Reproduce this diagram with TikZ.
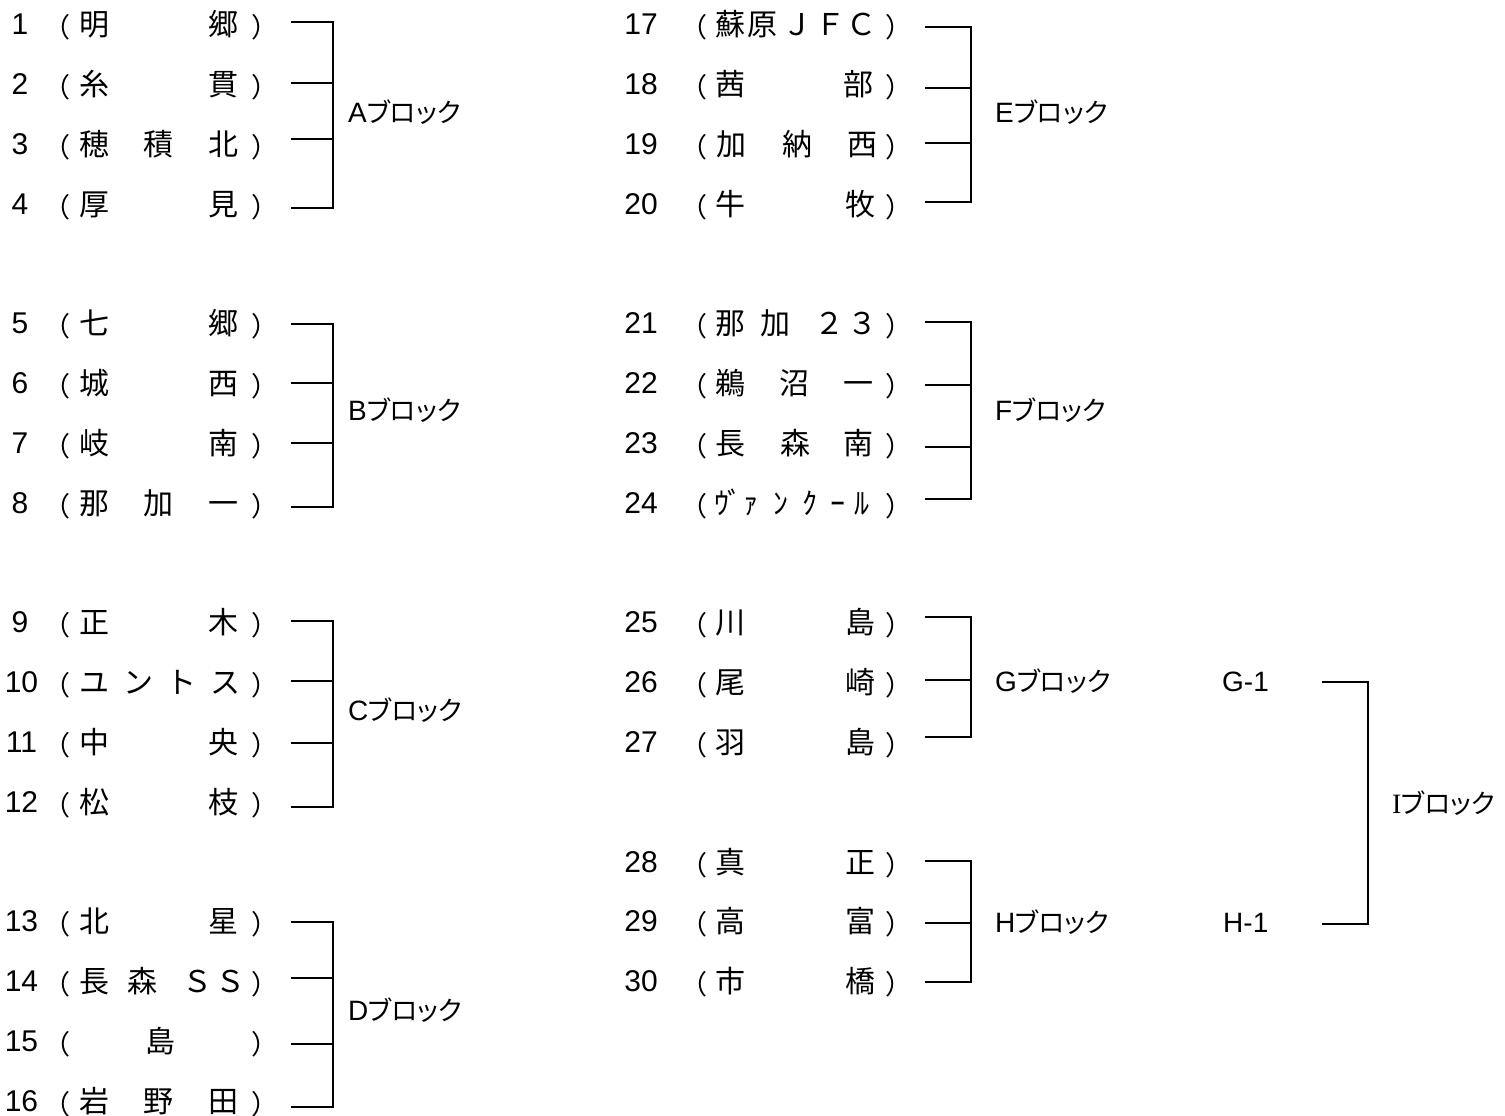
\documentclass[tikz,border=0pt]{standalone}
\usepackage{fontspec}
\setmainfont{Liberation Sans}
\newfontfamily\jp{Noto Sans CJK JP}
\newfontfamily\jpp[RawFeature=+palt]{Noto Sans CJK JP}
\newfontfamily\serifI{Liberation Serif}
\newcommand\kana[1]{{\jpp\fontsize{26.5}{26.5}\selectfont #1}}
\tikzset{
  num/.style={font=\fontsize{30}{30}\selectfont, inner sep=0pt, anchor=center},
  ch/.style={font=\jp\fontsize{30}{30}\selectfont, inner sep=0pt, anchor=base, yshift=-11.4pt},
  opar/.style={font=\jp\fontsize{27}{27}\selectfont, inner sep=0pt, anchor=base, yshift=-13.3pt},
  cpar/.style={font=\jp\fontsize{27}{27}\selectfont, inner sep=0pt, anchor=base, yshift=-13.3pt},
  lbl/.style={font=\fontsize{28}{28}\selectfont, inner sep=0pt, anchor=west},
  br/.style={line width=1.5pt, line join=miter}
}
\newcommand\teamrow[7]{%
  \node[num] (n#1) at (#2,#5) {#6};
  \node[opar] (o#1) at (#3,#5) {（};
  \node[cpar] (e#1) at (#4,#5) {）};
  \foreach \c/\x [count=\k] in {#7} {\node[ch] (c#1-\k) at (\x,#5) {\c};}%
}
\begin{document}
\begin{tikzpicture}[x=1pt,y=-1pt]
\fill[white] (0,0) rectangle (1505,1116);
\useasboundingbox (0,0) rectangle (1505,1116);
% left column
\teamrow{1}{20}{57}{265}{24.5}{1}{明/94,郷/223}
\teamrow{2}{20}{57}{265}{84.3}{2}{糸/94,貫/223}
\teamrow{3}{20}{57}{265}{144.1}{3}{穂/94,積/158,北/223}
\teamrow{4}{20}{57}{265}{203.9}{4}{厚/94,見/223}
\teamrow{5}{20}{57}{265}{323.5}{5}{七/94,郷/223}
\teamrow{6}{20}{57}{265}{383.3}{6}{城/94,西/223}
\teamrow{7}{20}{57}{265}{443.1}{7}{岐/94,南/223}
\teamrow{8}{20}{57}{265}{502.9}{8}{那/94,加/158,一/223}
\teamrow{9}{20}{57}{265}{622.5}{9}{正/94,木/223}
\teamrow{10}{21.5}{57}{265}{682.3}{10}{ユ/94,ン/138,ト/181,ス/225}
\teamrow{11}{21.5}{57}{265}{742.1}{11}{中/94,央/223}
\teamrow{12}{21.5}{57}{265}{801.9}{12}{松/94,枝/223}
\teamrow{13}{21.5}{57}{265}{921.5}{13}{北/94,星/223}
\teamrow{14}{21.5}{57}{265}{981.3}{14}{長/94,森/142,Ｓ/197,Ｓ/230}
\teamrow{15}{21.5}{57}{265}{1041.1}{15}{島/160}
\teamrow{16}{21.5}{57}{265}{1100.9}{16}{岩/94,野/158,田/223}
% right column
\teamrow{17}{641}{694}{899}{24.5}{17}{蘇/730,原/762,Ｊ/797,Ｆ/830,Ｃ/861}
\teamrow{18}{641}{694}{899}{84.3}{18}{茜/730,部/858}
\teamrow{19}{641}{694}{899}{144.1}{19}{加/731,納/797,西/862}
\teamrow{20}{641}{694}{899}{203.9}{20}{牛/730,牧/860}
\teamrow{21}{641}{694}{899}{323.5}{21}{那/730,加/775,２/829,３/862}
\teamrow{22}{641}{694}{899}{383.3}{22}{鵜/730,沼/794,一/858}
\teamrow{23}{641}{694}{899}{443.1}{23}{長/730,森/795,南/858}
\teamrow{24}{641}{694}{899}{502.9}{24}{ｳ/722,ﾞ/735,ｧ/751,ﾝ/781,ｸ/810,ｰ/838,ﾙ/862}
\teamrow{25}{641}{694}{899}{622.5}{25}{川/730,島/860}
\teamrow{26}{641}{694}{899}{682.3}{26}{尾/730,崎/860}
\teamrow{27}{641}{694}{899}{742.1}{27}{羽/730,島/860}
\teamrow{28}{641}{694}{899}{861.7}{28}{真/730,正/860}
\teamrow{29}{641}{694}{899}{921.5}{29}{高/730,富/860}
\teamrow{30}{641}{694}{899}{981.3}{30}{市/730,橋/860}
% block labels
\node[lbl] (LA) at (348,112) {A\kana{ブロック}};
\node[lbl] (LB) at (348,410) {B\kana{ブロック}};
\node[lbl] (LC) at (348,710) {C\kana{ブロック}};
\node[lbl] (LD) at (348,1010) {D\kana{ブロック}};
\node[lbl] (LE) at (995,112) {E\kana{ブロック}};
\node[lbl] (LF) at (995,410) {F\kana{ブロック}};
\node[lbl] (LG) at (995,681) {G\kana{ブロック}};
\node[lbl] (LH) at (995,922) {H\kana{ブロック}};
\node[lbl] (LI) at (1392,803) {{\serifI I}\kana{ブロック}};
\node[lbl] (G1) at (1222,682) {G-1};
\node[lbl] (H1) at (1223,923) {H-1};
% bracket coordinates
\coordinate (Lv) at (333,0);
\coordinate (Rv) at (971,0);
\coordinate (Iv) at (1368,0);
\foreach \b/\ya/\yb/\yc/\yd in {A/22/83/139/208, B/324/383/443/507, C/621/681/743/807, D/922/978/1044/1107}{
  \coordinate (\b1) at (291,\ya);
  \coordinate (\b2) at (291,\yb);
  \coordinate (\b3) at (291,\yc);
  \coordinate (\b4) at (291,\yd);
  \draw[br] (\b1) -- (\b1 -| Lv) -- (\b4 -| Lv) -- (\b4);
  \draw[br] (\b2) -- (\b2 -| Lv);
  \draw[br] (\b3) -- (\b3 -| Lv);
}
\foreach \b/\ya/\yb/\yc/\yd in {E/27/88/143/202, F/322/385/447/499}{
  \coordinate (\b1) at (925,\ya);
  \coordinate (\b2) at (925,\yb);
  \coordinate (\b3) at (925,\yc);
  \coordinate (\b4) at (925,\yd);
  \draw[br] (\b1) -- (\b1 -| Rv) -- (\b4 -| Rv) -- (\b4);
  \draw[br] (\b2) -- (\b2 -| Rv);
  \draw[br] (\b3) -- (\b3 -| Rv);
}
\foreach \b/\ya/\yb/\yc in {G/617/680/737, H/861/923/982}{
  \coordinate (\b1) at (925,\ya);
  \coordinate (\b2) at (925,\yb);
  \coordinate (\b3) at (925,\yc);
  \draw[br] (\b1) -- (\b1 -| Rv) -- (\b3 -| Rv) -- (\b3);
  \draw[br] (\b2) -- (\b2 -| Rv);
}
\coordinate (I1) at (1322,682);
\coordinate (I2) at (1322,924);
\draw[br] (I1) -- (I1 -| Iv) -- (I2 -| Iv) -- (I2);
\end{tikzpicture}
\end{document}
